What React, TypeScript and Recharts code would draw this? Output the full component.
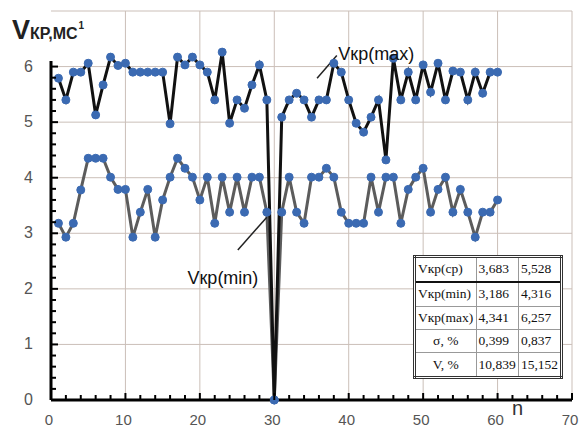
import { LineChart, Line, XAxis, YAxis, CartesianGrid, ReferenceLine, ReferenceDot } from "recharts";

// measurement number
const nValues = [
  1, 2, 3, 4, 5, 6, 7, 8, 9, 10, 11, 12, 13, 14, 15, 16, 17, 18, 19, 20,
  21, 22, 23, 24, 25, 26, 27, 28, 29, 30, 31, 32, 33, 34, 35, 36, 37, 38, 39, 40,
  41, 42, 43, 44, 45, 46, 47, 48, 49, 50, 51, 52, 53, 54, 55, 56, 57, 58, 59, 60,
];

// Vкр(max), upper black line
const vMax = [
  5.79, 5.4, 5.9, 5.9, 6.06, 5.13, 5.67, 6.17, 6.02, 6.06,
  5.9, 5.9, 5.9, 5.9, 5.9, 4.97, 6.17, 6.03, 6.17, 6.03,
  5.9, 5.4, 6.26, 4.98, 5.4, 5.25, 5.67, 6.03, 5.4, 0,
  5.09, 5.4, 5.52, 5.4, 5.09, 5.4, 5.4, 6.06, 5.9, 5.4,
  4.98, 4.82, 5.09, 5.4, 4.32, 6.15, 5.4, 5.9, 5.4, 6.03,
  5.54, 6.06, 5.4, 5.92, 5.9, 5.4, 5.9, 5.52, 5.9, 5.9,
];

// Vкр(min), lower grey line
const vMin = [
  3.18, 2.93, 3.18, 3.78, 4.35, 4.35, 4.35, 4.01, 3.79, 3.79,
  2.93, 3.38, 3.79, 2.93, 3.6, 4.01, 4.35, 4.17, 4.01, 3.6,
  4.01, 3.18, 4.01, 3.38, 4.01, 3.38, 4.01, 4.01, 3.38, 0,
  3.38, 4.01, 3.38, 3.18, 4.01, 4.01, 4.17, 4.01, 3.38, 3.18,
  3.18, 3.18, 4.01, 3.38, 4.01, 4.01, 3.18, 3.79, 4.01, 4.17,
  3.38, 3.79, 4.01, 3.38, 3.79, 3.38, 2.93, 3.38, 3.38, 3.6,
];

const xTicks = [0, 2, 4, 6, 8, 10, 12, 14, 16, 18, 20, 22, 24, 26, 28, 30, 32, 34, 36, 38, 40,
  42, 44, 46, 48, 50, 52, 54, 56, 58, 60, 62, 64, 66, 68, 70];
const yTicks = [0, 0.2, 0.4, 0.6, 0.8, 1, 1.2, 1.4, 1.6, 1.8, 2, 2.2, 2.4, 2.6, 2.8, 3,
  3.2, 3.4, 3.6, 3.8, 4, 4.2, 4.4, 4.6, 4.8, 5, 5.2, 5.4, 5.6, 5.8, 6];
const gridX = [10, 20, 30, 40, 50, 60, 70];
const gridY = [1, 2, 3, 4, 5, 6, 7];

// stats table
const tableNames = ["Vкр(ср)", "Vкр(min)", "Vкр(max)", "σ, %", "V, %"];
const tableLow = ["3,683", "3,186", "4,341", "0,399", "10,839"];
const tableHigh = ["5,528", "4,316", "6,257", "0,837", "15,152"];

const chartData = nValues.map((n, i) => ({ n, low: vMin[i], high: vMax[i] }));

const dotStyle = { r: 4, fill: "#3b6ab2", stroke: "#3b6ab2", strokeWidth: 1 };
const font = "'Liberation Sans', Arial, sans-serif";

function XTick(props: any) {
  const { x, y, payload } = props;
  const major = payload.value % 10 === 0;
  return (
    <g>
      <line x1={x} x2={x} y1={y} y2={y - (major ? 7 : 5)} stroke="#000" strokeWidth={2} />
      {major && (
        <text x={x - 2} y={y + 25} textAnchor="middle" fontSize={15} fill="#555" fontFamily={font}>
          {payload.value}
        </text>
      )}
    </g>
  );
}

function YTick(props: any) {
  const { x, y, payload } = props;
  const v = payload.value;
  const major = Math.abs(v - Math.round(v)) < 1e-6;
  return (
    <g>
      <line x1={x} x2={x + (major ? 7 : 5)} y1={y} y2={y} stroke="#000" strokeWidth={2} />
      {major && (
        <text x={x - 18} y={y + 5} textAnchor="end" fontSize={16} fill="#555" fontFamily={font}>
          {Math.round(v)}
        </text>
      )}
    </g>
  );
}

export default function App() {
  return (
    <div style={{ position: "absolute", left: 0, top: 0, width: 581, height: 431, background: "#fff" }}>
      <LineChart
        width={581}
        height={431}
        data={chartData}
        margin={{ top: 11, right: 9, left: 0, bottom: 0 }}
      >
        <CartesianGrid stroke="#cbbfb8" horizontalValues={gridY} verticalValues={gridX} />
        <XAxis
          dataKey="n"
          type="number"
          domain={[0, 70]}
          ticks={xTicks}
          interval={0}
          height={31}
          tickSize={0}
          tickMargin={0}
          tickLine={false}
          tick={XTick}
          axisLine={{ stroke: "#000", strokeWidth: 3 }}
        />
        <YAxis
          type="number"
          domain={[0, 7]}
          ticks={yTicks}
          interval={0}
          width={51}
          tickSize={0}
          tickMargin={0}
          tickLine={false}
          tick={YTick}
          axisLine={false}
        />
        <ReferenceLine segment={[{ x: 0, y: 0 }, { x: 0, y: 6.1 }]} stroke="#000" strokeWidth={3} />
        <Line dataKey="low" stroke="#5c5c5c" strokeWidth={3} dot={dotStyle} isAnimationActive={false} />
        <Line dataKey="high" stroke="#111" strokeWidth={3} dot={dotStyle} isAnimationActive={false} />
        <ReferenceLine segment={[{ x: 35.75, y: 5.79 }, { x: 38.4, y: 6.2 }]} stroke="#222" strokeWidth={1.5} />
        <ReferenceLine segment={[{ x: 25.1, y: 2.7 }, { x: 29, y: 3.29 }]} stroke="#222" strokeWidth={1.5} />
        <ReferenceDot
          x={43.7}
          y={6.24}
          r={0}
          label={{ value: "Vкр(max)", position: "center", fontSize: 18, fill: "#111", fontFamily: font }}
        />
        <ReferenceDot
          x={23.1}
          y={2.21}
          r={0}
          label={{ value: "Vкр(min)", position: "center", fontSize: 18, fill: "#111", fontFamily: font }}
        />
      </LineChart>

      <div style={{ position: "absolute", left: 12, top: 15, fontFamily: font, fontWeight: 700, color: "#222", whiteSpace: "nowrap" }}>
        <span style={{ fontSize: 27 }}>V</span>
        <span style={{ fontSize: 16 }}>КР,МС</span>
        <span style={{ fontSize: 10, position: "relative", top: -10, marginLeft: 1 }}>1</span>
      </div>
      <div style={{ position: "absolute", left: 512, top: 397, fontFamily: font, fontSize: 20, color: "#333" }}>n</div>

      <table
        style={{
          position: "absolute",
          left: 413,
          top: 255,
          width: 150,
          height: 124,
          borderCollapse: "collapse",
          border: "3px double #333",
          background: "#fff",
          fontFamily: "'Liberation Serif', serif",
          fontSize: 13.5,
          color: "#111",
        }}
      >
        <tbody>
          {tableNames.map((name, i) => (
            <tr key={name} style={{ borderBottom: i === 0 ? "2px solid #111" : "1px solid #999" }}>
              <td style={{ border: "1px solid #999", padding: "0 2px", width: 60, textAlign: i > 2 ? "center" : "left" }}>{name}</td>
              <td style={{ border: "1px solid #999", padding: "0 2px", width: 42 }}>{tableLow[i]}</td>
              <td style={{ border: "1px solid #999", padding: "0 2px" }}>{tableHigh[i]}</td>
            </tr>
          ))}
        </tbody>
      </table>
    </div>
  );
}
